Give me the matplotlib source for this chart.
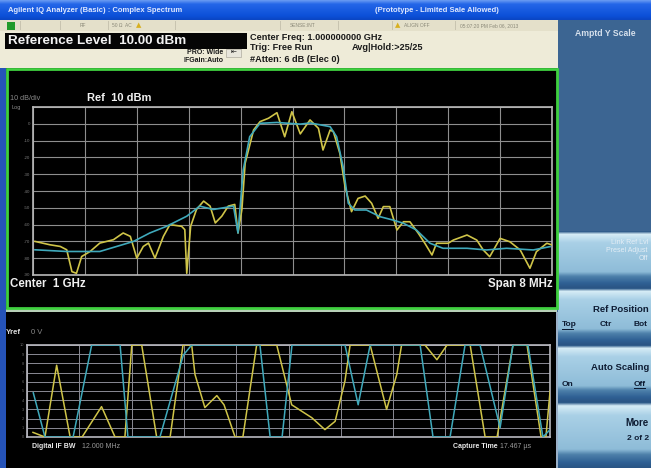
import numpy as np
import matplotlib
matplotlib.use('Agg')
import matplotlib.pyplot as plt
from matplotlib.patches import Rectangle
from matplotlib.colors import to_rgb

plt.rcParams['font.family'] = ['Liberation Sans', 'DejaVu Sans']

# ---------------- data ----------------
# Upper spectrum: frequency offset from 1 GHz (MHz) and level (dBm)
yel_f = [-3.97, -3.74, -3.58, -3.48, -3.40, -3.33, -3.25, -3.12, -2.97, -2.76,
         -2.61, -2.50, -2.40, -2.30, -2.22, -2.12, -1.99, -1.89, -1.71, -1.66,
         -1.63, -1.57, -1.48, -1.37, -1.27, -1.19, -1.09, -0.99, -0.89, -0.84,
         -0.78, -0.73, -0.60, -0.50, -0.37, -0.24, -0.12, -0.01, 0.12, 0.27,
         0.40, 0.47, 0.58, 0.63, 0.73, 0.81, 0.91, 1.01, 1.12, 1.22,
         1.32, 1.40, 1.50, 1.61, 1.71, 1.81, 1.94, 2.04, 2.15, 2.22,
         2.40, 2.48, 2.69, 2.84, 2.94, 3.04, 3.20, 3.35, 3.51, 3.66,
         3.76, 3.92, 4.00]
yel_db = [-70, -72, -73, -75, -88, -89, -79, -76, -71, -69,
          -65, -67, -80, -73, -71, -80, -67, -60, -61, -63,
          -89, -61, -51, -46, -49, -59, -55, -49, -48, -65,
          -51, -23.5, -3.7, 1.3, 3.3, 6.6, -7.7, 7.2, -6.0, 2.3,
          -2.7, -15.6, -3.7, -4.7, -17.6, -37.4, -52.3, -44.4, -43, -47.3,
          -56.3, -49.3, -49.3, -63.2, -58.3, -58.3, -65.2, -71.1, -78.1, -71.1,
          -71.1, -69.2, -66.2, -69.2, -75.1, -79.1, -68.2, -70.2, -75.1, -86,
          -76.1, -71.1, -72.1]
cyan_f = [-3.97, -3.48, -2.97, -2.45, -2.20, -1.94, -1.63, -1.43, -1.22, -0.91,
          -0.84, -0.76, -0.66, -0.50, -0.24, 0.12, 0.27, 0.58, 0.68, 0.78,
          0.86, 0.96, 1.14, 1.35, 1.55, 1.71, 1.91, 2.12, 2.32, 2.69,
          2.99, 3.30, 3.71, 3.97]
cyan_db = [-75, -76, -76, -70, -65, -61, -55, -49, -51, -49,
           -65, -27.5, -7.7, 0.3, 0.8, -0.2, 0.5, -1.7, -7.7, -25.5,
           -47.3, -51.3, -51.3, -55.3, -57.3, -59.2, -63.2, -71.1, -74.1, -74.1,
           -75.1, -74.1, -75.1, -73.1]

# Lower waveform: time (us) and level (graticule divisions, 0..10)
wy_t = [0.20, 0.60, 0.99, 1.44, 1.84, 2.49, 2.94, 3.27, 3.50, 3.83,
        4.33, 4.78, 5.21, 5.50, 5.61, 5.94, 6.34, 6.58, 6.95, 7.21,
        7.67, 8.34, 8.84, 9.51, 9.95, 10.29, 10.62, 10.79, 11.46, 11.68,
        12.01, 12.35, 12.51, 13.29, 13.69, 14.03, 14.80, 15.30, 15.70, 16.23,
        16.70, 17.17, 17.33, 17.47]
wy_v = [0.5, 0, 7.8, 0, 0, 3.3, 0, 0, 10, 10,
        0, 0, 10, 10, 6.8, 3.2, 4.5, 3.5, 0, 0,
        10, 10, 3.5, 2.1, 0.8, 1.7, 6.1, 10, 10, 7.2,
        3.0, 6.8, 10, 10, 8.4, 10, 10, 0, 0, 10,
        10, 0, 0, 5]
wc_t = [0.21, 0.60, 1.54, 2.16, 3.11, 3.37, 4.44, 5.22, 5.50, 7.78,
        8.12, 8.52, 8.85, 10.62, 11.06, 11.46, 13.13, 13.56, 14.13, 14.63,
        15.13, 15.80, 16.23, 16.73, 17.23, 17.47]
wc_v = [4.8, 0, 0, 10, 10, 0, 0, 8.9, 10, 10,
        0, 0, 10, 10, 3.5, 10, 10, 0, 0, 10,
        10, 1.0, 10, 10, 0, 0.8]

spec_yticks = [10, 0, -10, -20, -30, -40, -50, -60, -70, -80, -90]

YEL = '#cfc448'
CYN = '#3fa9bb'

# ---------------- figure ----------------
W, H = 651, 468
fig = plt.figure(figsize=(6.51, 4.68), dpi=100)
fig.patch.set_facecolor('#3c6592')
bg = fig.add_axes([0, 0, 1, 1])
bg.axis('off')
bg.set_autoscale_on(False)
bg.set_xlim(0, W)
bg.set_ylim(H, 0)


def rect(x0, y0, x1, y1, color, z=1, **kw):
    bg.add_patch(Rectangle((x0, y0), x1 - x0, y1 - y0, facecolor=color,
                           edgecolor=kw.pop('ec', 'none'), zorder=z, **kw))


def grad(x0, y0, x1, y1, stops, z=1, n=60):
    pos = np.linspace(0, 1, n)
    ps = [s[0] for s in stops]
    cols = np.array([to_rgb(s[1]) for s in stops])
    arr = np.stack([np.interp(pos, ps, cols[:, k]) for k in range(3)], axis=1)
    bg.imshow(arr[:, None, :], extent=[x0, x1, y1, y0], aspect='auto',
              interpolation='bilinear', zorder=z)


def txt(x, y, s, size=6, color='black', weight='normal', ha='left', z=5, **kw):
    bg.text(x, y, s, fontsize=size, color=color, fontweight=weight, ha=ha,
            va='center', zorder=z, **kw)


# title bar
grad(0, 0, W, 20, [(0, '#6a9cf2'), (0.2, '#2466e8'), (0.8, '#0c50d8'), (1, '#0a45c2')])
txt(8, 11, 'Agilent IQ Analyzer (Basic) : Complex Spectrum', 5.5, '#dfe8ff', 'bold')
txt(375, 11, '(Prototype - Limited Sale Allowed)', 5.5, '#dfe8ff', 'bold')

# status strip and header
rect(0, 20, 558, 31, '#e4e0ca')
for xd in [20, 60, 108, 175, 280, 338, 392, 455]:
    rect(xd, 21, xd + 0.8, 30, '#c8c4b0', z=2)
rect(7, 22, 15, 30, '#1f9a2a', z=3)
txt(80, 25.5, 'RF', 3.5, '#8a8878')
txt(112, 25.5, '50 Ω  AC', 3.5, '#8a8878')
bg.text(139, 25.5, '▲', fontsize=5, color='#d8b020', ha='center', va='center',
        zorder=5, family=['DejaVu Sans'])
txt(290, 25.5, 'SENSE:INT', 3.5, '#8a8878')
bg.text(398, 25.5, '▲', fontsize=5, color='#d8b020', ha='center', va='center',
        zorder=5, family=['DejaVu Sans'])
txt(404, 25.5, 'ALIGN OFF', 3.5, '#8a8878')
txt(460, 25.5, '05:07:20 PM Feb 06, 2013', 3.5, '#8a8878')
rect(0, 31, 558, 68, '#eeebd8')

rect(5, 33, 247, 48.5, '#050505', z=2)
txt(8, 41, 'Reference Level  10.00 dBm', 9.7, '#f2f2f2', 'bold')
txt(250, 37.5, 'Center Freq: 1.000000000 GHz', 6.6, '#1a1a1a', 'bold')
txt(250, 47.5, 'Trig: Free Run', 6.6, '#1a1a1a', 'bold')
txt(352, 47.5, 'Avg|Hold:>25/25', 6.6, '#1a1a1a', 'bold')
txt(250, 60, '#Atten: 6 dB (Elec 0)', 6.6, '#1a1a1a', 'bold')
txt(223, 52, 'PRO: Wide', 5.0, '#1a1a1a', 'bold', ha='right')
txt(223, 61, 'IFGain:Auto', 5.0, '#1a1a1a', 'bold', ha='right')
rect(226, 49, 241, 57, '#e8e6dc', z=2, ec='#a09c90', lw=0.4)
bg.text(233.5, 53, '⇤', fontsize=5, color='#111111', ha='center', va='center',
        zorder=5, family=['DejaVu Sans'])

# left blue strip
rect(0, 68, 6, H, '#2553b8')

# upper panel
rect(6, 68, 557, 309, '#000000', z=1)
bg.add_patch(Rectangle((6.5, 69), 550, 239, facecolor='none', edgecolor='#3fd03f',
                       lw=2.0, zorder=6))
rect(6, 309, 557, 312, '#b8d0b8', z=1)
# lower panel
rect(6, 312, 556, H, '#000000', z=1)
rect(556, 312, 558, H, '#9ab0c8', z=1)

txt(10, 99, '10 dB/div', 5.2, '#8a8a8a')
txt(12, 107, 'Log', 4, '#8a8a8a')
txt(87, 98, 'Ref  10 dBm', 8, '#f0f0f0', 'bold')
txt(10, 284, 'Center  1 GHz', 8.3, '#f0f0f0', 'bold')
txt(553, 284, 'Span 8 MHz', 8.3, '#f0f0f0', 'bold', ha='right')

txt(6, 333, 'Yref', 5.5, '#e0e0e0', 'bold')
txt(31, 333, '0 V', 5.5, '#8a8a8a')
txt(32, 446, 'Digital IF BW', 5.0, '#e8e8e8', 'bold')
txt(82, 446, '12.000 MHz', 5.0, '#9a9a9a')
txt(453, 446, 'Capture Time', 5.0, '#e8e8e8', 'bold')
txt(500, 446, '17.467 µs', 5.0, '#9a9a9a')

# right panel
rect(558, 20, W, 230, '#3c6592')
txt(605, 34, 'Amptd Y Scale', 6.2, '#d6e0ec', 'bold', ha='center')

btn_stops = [(0, '#2d5a88'), (0.05, '#d6ecf6'), (0.2, '#a9d0e6'), (0.72, '#8ebcd8'),
             (0.8, '#4d80aa'), (0.92, '#2f6094'), (1, '#2a5585')]
for (y0, y1) in [(231, 288), (288, 345), (345, 402), (402, 468)]:
    grad(558, y0, W, y1, btn_stops)

txt(648, 243, 'Link Ref Lvl', 5.0, '#e4eef6', ha='right')
txt(648, 251, 'Presel Adjust', 5.0, '#e4eef6', ha='right')
txt(648, 259, 'Off', 5.0, '#e4eef6', ha='right')

txt(649, 309, 'Ref Position', 6.8, '#0e1c33', 'bold', ha='right')
txt(562, 325, 'Top', 6.0, '#0e1c33', 'bold')
rect(562, 329, 574, 329.8, '#0e1c33', z=6)
txt(600, 325, 'Ctr', 6.0, '#0e1c33', 'bold')
txt(634, 325, 'Bot', 6.0, '#0e1c33', 'bold')

txt(649, 367, 'Auto Scaling', 6.8, '#0e1c33', 'bold', ha='right')
txt(562, 384, 'On', 6.0, '#0e1c33', 'bold')
txt(634, 384, 'Off', 6.0, '#0e1c33', 'bold')
rect(634, 388, 646, 388.8, '#0e1c33', z=6)

txt(649, 423, 'More', 7.0, '#0e1c33', 'bold', ha='right')
txt(649, 438, '2 of 2', 6.0, '#0e1c33', 'bold', ha='right')

# ---------------- spectrum axes ----------------
ax1 = fig.add_axes([33 / W, 1 - 275 / H, 519 / W, 168 / H])
ax1.set_facecolor('#000000')
ax1.plot(yel_f, yel_db, color=YEL, lw=1.2, zorder=3)
ax1.plot(cyan_f, cyan_db, color=CYN, lw=1.2, zorder=4)
ax1.set_xlim(-4, 4)
ax1.set_ylim(-90, 10)
ax1.set_xticks(np.linspace(-4, 4, 11))
ax1.set_yticks(spec_yticks)
ax1.set_xticklabels([])
ax1.set_yticklabels([''] + [str(v) for v in spec_yticks[1:]])
ax1.tick_params(length=0, labelsize=3.2, labelcolor='#7a7a7a', pad=2)
ax1.grid(True, color='#8e8e8e', lw=0.8)
for sp in ax1.spines.values():
    sp.set_color('#b8b8b8')
    sp.set_linewidth(1.2)

# ---------------- waveform axes ----------------
ax2 = fig.add_axes([27 / W, 1 - 437 / H, 523 / W, 92 / H])
ax2.set_facecolor('#000000')
ax2.plot(wy_t, wy_v, color=YEL, lw=1.1, zorder=3, clip_on=True)
ax2.plot(wc_t, wc_v, color=CYN, lw=1.1, zorder=4, clip_on=True)
ax2.set_xlim(0, 17.467)
ax2.set_ylim(0, 10)
ax2.set_xticks(np.linspace(0, 17.467, 11))
ax2.set_yticks(range(0, 11))
ax2.set_xticklabels([])
ax2.set_yticklabels([str(v) for v in range(0, 11)])
ax2.tick_params(length=0, labelsize=2.8, labelcolor='#6a6a6a', pad=2)
ax2.grid(True, color='#8a8a94', lw=0.7)
for sp in ax2.spines.values():
    sp.set_color('#b8b8c0')
    sp.set_linewidth(1.2)

bg.set_xlim(0, W)
bg.set_ylim(H, 0)
fig.savefig('out.png', dpi=100, facecolor=fig.get_facecolor())
